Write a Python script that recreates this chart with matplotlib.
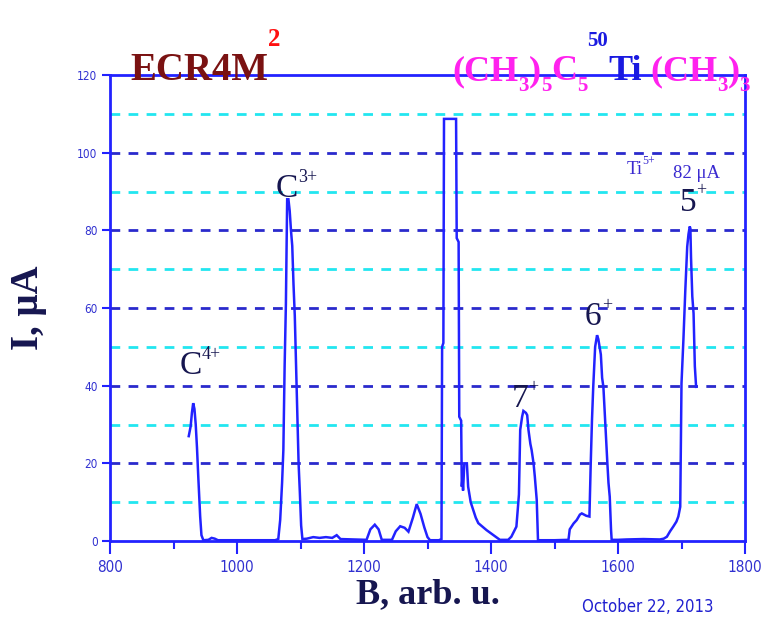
import matplotlib
matplotlib.use("Agg")
import matplotlib.pyplot as plt
import numpy as np

# ---- data ----
B = [924, 927, 929, 931, 933, 935, 937, 939, 941, 942, 944, 947, 955, 960, 965, 970, 1000, 1060,
     1065, 1068, 1071, 1073, 1075, 1077, 1079, 1081, 1083, 1085, 1087, 1089, 1091, 1093, 1095, 1097,
     1099, 1101, 1103, 1110, 1120, 1130, 1140, 1150, 1157, 1163, 1204, 1210, 1217, 1223, 1228, 1244,
     1250, 1257, 1264, 1270, 1277, 1283, 1289, 1295, 1300, 1304, 1318, 1322, 1323, 1325, 1326, 1345,
     1346, 1349, 1350, 1353, 1354, 1355, 1356, 1358, 1362, 1364, 1368, 1372, 1376, 1380, 1393, 1404,
     1414, 1427, 1432, 1440, 1444, 1446, 1449, 1451, 1455, 1457, 1459, 1462, 1464, 1467, 1469, 1472,
     1473, 1474, 1500, 1522, 1524, 1530, 1535, 1540, 1543, 1550, 1555, 1557, 1559, 1561, 1564, 1567,
     1569, 1571, 1573, 1575, 1577, 1580, 1583, 1585, 1587, 1589, 1590, 1600, 1614, 1640, 1666, 1672,
     1677, 1682, 1687, 1692, 1695, 1698, 1700, 1703, 1706, 1709, 1711, 1713, 1714, 1715, 1717, 1719,
     1720, 1721, 1723]
I = [27, 29.5, 33, 35.5, 34, 30, 24, 16.6, 10, 6.3, 1.5, 0.2, 0.3, 0.8, 0.6, 0.2, 0.2, 0.2,
     0.5, 5.4, 15, 23.4, 45, 61, 88, 88, 85, 80, 76, 66, 58, 45, 32, 20,
     12.4, 4, 0.5, 0.6, 1, 0.8, 1, 0.8, 1.5, 0.5, 0.3, 3, 4.2, 3, 0.3, 0.3,
     2.5, 3.8, 3.4, 2.4, 6, 9.5, 7, 3.5, 1, 0.2, 0.2, 0.5, 50, 51, 108.7, 108.7,
     78, 77, 32, 31, 14, 16, 13, 20, 20, 14, 10, 8, 6, 4.6, 2.8, 1.5,
     0.3, 0.3, 1.1, 3.7, 12, 28.6, 32, 33.5, 33, 32.4, 28.6, 25, 23.4, 20, 16.6, 10.6,
     5, 0.2, 0.2, 0.3, 3, 4.5, 5.4, 6.8, 7.1, 6.5, 6.3, 19.6, 31, 39.7, 50, 53,
     52, 50, 48, 42, 39.7, 30, 20.8, 15, 11.4, 3, 0.3, 0.3, 0.4, 0.5, 0.4, 0.6,
     1.1, 2.5, 3.7, 5, 6.3, 8.8, 40.6, 51.8, 64.6, 75.8, 79, 81, 80.5, 73, 63, 58.6,
     52, 45, 39.7]

x_major = [800, 1000, 1200, 1400, 1600, 1800]
x_minor = [900, 1100, 1300, 1500, 1700]
y_ticks = [0, 20, 40, 60, 80, 100, 120]
grid_dark = [20, 40, 60, 80, 100]
grid_cyan = [10, 30, 50, 70, 90, 110]

peak_labels = [("C", "4+", 910, 43), ("C", "3+", 1061, 88.5), ("7", "+", 1432, 34.5),
               ("6", "+", 1548, 55.5), ("5", "+", 1697, 85)]

BLUE = "#2222ff"
NAVY = "#161650"

fig = plt.figure(figsize=(7.69, 6.31), dpi=100)
ax = fig.add_axes([110/769, 90/631, 635/769, 466/631])
ax.set_xlim(800, 1800)
ax.set_ylim(0, 120)

for g in grid_dark:
    ax.axhline(g, color="#2a2acc", lw=2, ls=(0, (3.5, 3)), zorder=1)
for g in grid_cyan:
    ax.axhline(g, color="#22e6f0", lw=2, ls=(0, (3.5, 3)), zorder=1)

ax.plot(B, I, color=BLUE, lw=1.8, zorder=3, solid_joinstyle="miter")

for s in ax.spines.values():
    s.set_color(BLUE)
    s.set_linewidth(2)

ax.set_xticks(x_major)
ax.set_xticks(x_minor, minor=True)
ax.set_yticks(y_ticks)
ax.set_xticklabels([str(v) for v in x_major], fontsize=11, color="#3030d0",
                   family="DejaVu Sans", stretch="condensed")
ax.set_yticklabels([str(v) for v in y_ticks], fontsize=8.5, color="#3030d0",
                   family="DejaVu Sans", stretch="condensed")
ax.tick_params(axis="x", which="major", length=9, width=1.5, color=BLUE, direction="out", pad=5)
ax.tick_params(axis="x", which="minor", length=6, width=1.5, color=BLUE, direction="out")
ax.tick_params(axis="y", length=6, width=1.5, color=BLUE, direction="out", pad=3)

ax.set_xlabel("B, arb. u.", fontsize=26, fontweight="bold", family="Liberation Serif",
              color=NAVY, labelpad=2)
ax.set_ylabel("I, \u03bcA", fontsize=28, fontweight="bold", family="Liberation Serif",
              color=NAVY, labelpad=22)

for base, sup, bx, by in peak_labels:
    t = ax.annotate(base, xy=(bx, by), xycoords="data", fontsize=24, family="Liberation Serif",
                    color=NAVY, va="baseline", ha="left")
    ax.annotate(sup, xy=(1, 0.6), xycoords=t, fontsize=13, family="Liberation Serif",
                color=NAVY, va="bottom", ha="left")

t = ax.annotate("Ti", xy=(1613, 94.5), xycoords="data", fontsize=13.5, family="Liberation Serif",
                color="#3a2ad0", va="baseline", ha="left")
ax.annotate("5+", xy=(1, 0.65), xycoords=t, fontsize=8.5, family="Liberation Serif",
            color="#3a2ad0", va="bottom", ha="left")
ax.annotate("82 \u03bcA", xy=(1, 0), xycoords=t, xytext=(22, 0), textcoords="offset points",
            fontsize=13.5, family="Liberation Serif", color="#3a2ad0", va="baseline", ha="left")

fig.text(582/769, 1 - 612/631, "October 22, 2013", fontsize=12, color="#2020d0",
         family="DejaVu Sans", stretch="condensed", ha="left", va="baseline")

# header texts
fig.canvas.draw()
r = fig.canvas.get_renderer()

def seq(pieces, x0, ybase):
    x = x0
    for txt, size, color, dy in pieces:
        tt = fig.text(x / 769, 1 - (ybase + dy) / 631, txt, fontsize=size, color=color,
                      family="Liberation Serif", fontweight="bold", ha="left", va="baseline")
        bb = tt.get_window_extent(r)
        x += bb.width

MAG = "#ff22ee"
seq([("ECR4M", 28, "#7a1212", 0), ("2", 18, "#ff1010", -34)], 130, 80)
seq([("(CH", 26, MAG, 0), ("3", 15, MAG, 11), (")", 26, MAG, 0), ("5", 15, MAG, 11),
     ("C", 26, MAG, 0), ("5", 15, MAG, 11), ("50", 15, "#1a1ae0", -34), ("Ti", 26, "#1a1ae0", 0),
     (" (CH", 26, MAG, 0), ("3", 15, MAG, 11), (")", 26, MAG, 0), ("3", 15, MAG, 11)], 452, 80)

fig.savefig("out.png", dpi=100, facecolor="white")
